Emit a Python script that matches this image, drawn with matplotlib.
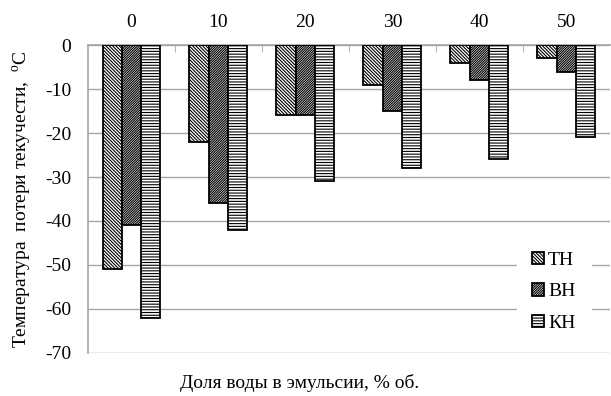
import numpy as np
import matplotlib
matplotlib.use('Agg')
import matplotlib.pyplot as plt

plt.rcParams['font.family'] = ['Liberation Serif', 'DejaVu Serif']
plt.rcParams['hatch.linewidth'] = 0.8
plt.rcParams['axes.unicode_minus'] = False

categories = ['0', '10', '20', '30', '40', '50']
series = ['ТН', 'ВН', 'КН']
tn = [-51, -22, -16, -9, -4, -3]
vn = [-41, -36, -16, -15, -8, -6]
kn = [-62, -42, -31, -28, -26, -21]
hatches = ['\\' * 10, '/' * 14, '-' * 6]

fig = plt.figure(figsize=(6.11, 3.96), dpi=100)
ax = fig.add_axes([0.144, 0.109, 0.854, 0.777])

x = np.arange(len(categories))
w = 0.222
for i, (vals, h, name) in enumerate(zip([tn, vn, kn], hatches, series)):
    ax.bar(x + (i - 1) * w, vals, w, color='white', edgecolor='black',
           linewidth=1.3, hatch=h, label=name, zorder=3)

ax.set_xlim(-0.5, len(categories) - 0.5)
ax.set_ylim(-70, 0)
ax.set_yticks(range(-70, 1, 10))
ax.yaxis.grid(True, color='#a6a6a6', linewidth=1)
ax.set_axisbelow(True)

ax.xaxis.tick_top()
ax.set_xticks(x)
ax.set_xticklabels(categories)
ax.set_xticks(np.arange(0.5, len(categories) - 0.5, 1), minor=True)
ax.tick_params(axis='x', which='major', length=0, pad=10, labelsize=14)
ax.tick_params(axis='x', which='minor', length=5, direction='in', color='#a6a6a6', top=True, bottom=False)
ax.tick_params(axis='y', length=0, pad=12, labelsize=14)

for s in ['right', 'bottom']:
    ax.spines[s].set_visible(False)
for s in ['top', 'left']:
    ax.spines[s].set_color('#a6a6a6')
    ax.spines[s].set_linewidth(1.2)

ax.set_ylabel('Температура  потери текучести,  $^\\mathregular{o}$C', fontsize=14, labelpad=8)
fig.text(0.49, 0.033, 'Доля воды в эмульсии, % об.', ha='center', va='center', fontsize=14)

leg = ax.legend(loc='center', bbox_to_anchor=(0.893, 0.198), frameon=True, fancybox=False,
                edgecolor='white', framealpha=1, fontsize=14, handlelength=0.6,
                handleheight=0.6, handletextpad=0.2, labelspacing=0.75, borderpad=0.8)

fig.savefig('out.png', dpi=100)
